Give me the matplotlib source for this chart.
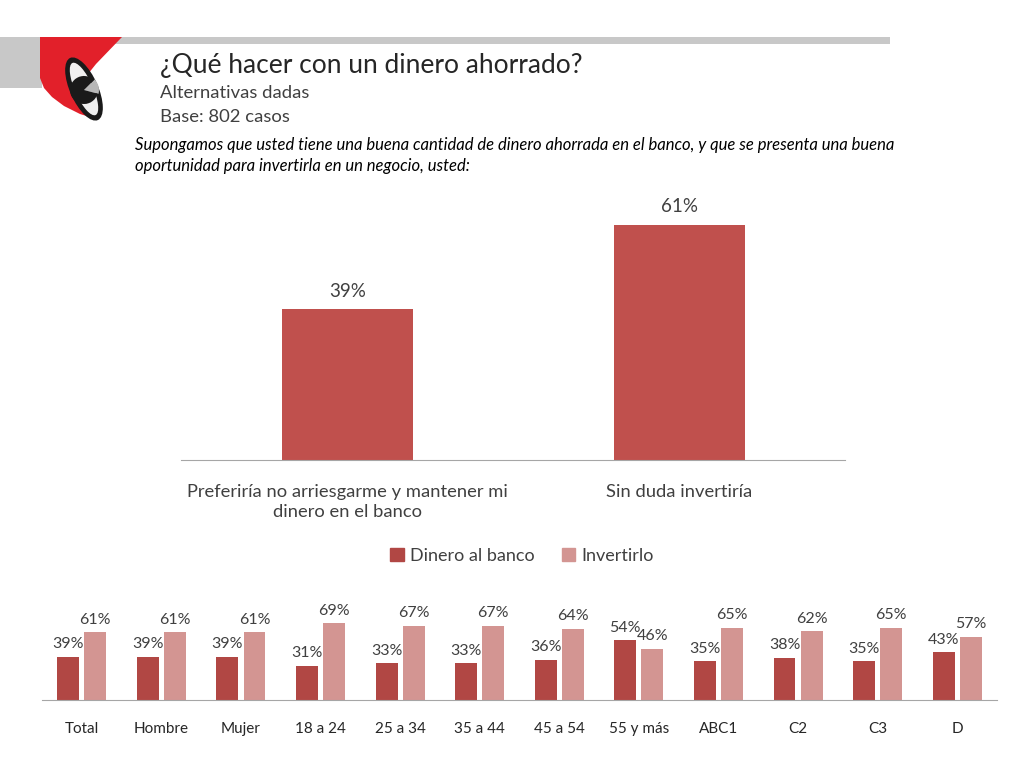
import matplotlib
matplotlib.use("Agg")
import matplotlib.pyplot as plt
from matplotlib.patches import Polygon, Rectangle, Ellipse, Wedge

plt.rcParams['font.family'] = ['Lato', 'DejaVu Sans']

# data
top_cats = ["Preferiría no arriesgarme y mantener mi\ndinero en el banco", "Sin duda invertiría"]
top_vals = [39, 61]

groups = ["Total", "Hombre", "Mujer", "18 a 24", "25 a 34", "35 a 44", "45 a 54",
          "55 y más", "ABC1", "C2", "C3", "D"]
banco = [39, 39, 39, 31, 33, 33, 36, 54, 35, 38, 35, 43]
invertir = [61, 61, 61, 69, 67, 67, 64, 46, 65, 62, 65, 57]

W, H = 1024, 768
red_top = '#C0504D'
dark = '#B14744'
light = '#D39592'
text_c = '#404040'


def box(x0, y0, x1, y1):
    # pixel box (top-left origin) -> figure fraction
    return [x0 / W, 1 - y1 / H, (x1 - x0) / W, (y1 - y0) / H]


fig = plt.figure(figsize=(W / 100, H / 100), dpi=100)

# header / logo drawn in pixel coords
bg = fig.add_axes([0, 0, 1, 1])
bg.set_xlim(0, W)
bg.set_ylim(H, 0)
bg.axis('off')
bg.add_patch(Rectangle((0, 37), 890, 7, color='#C8C8C8', lw=0))
bg.add_patch(Rectangle((0, 37), 42, 51, color='#C8C8C8', lw=0))
bg.add_patch(Polygon([(40, 37), (122, 37), (96, 64), (80, 84), (86, 104), (96, 119), (80, 114),
                      (64, 106), (52, 97), (44, 88), (40, 78)],
                     closed=True, color='#E2202A', lw=0))
bg.add_patch(Ellipse((84, 89), 28, 68, angle=-24, color='#1A1A1A', lw=0))
bg.add_patch(Ellipse((84, 89), 18, 57, angle=-24, color='#F0F0F0', lw=0))
bg.add_patch(Wedge((84, 90), 15, -45, 15, color='#B8B8B8', lw=0))
bg.add_patch(Wedge((84, 90), 14, 15, 315, color='#1A1A1A', lw=0))

fig.text(160 / W, 1 - 65 / H, "¿Qué hacer con un dinero ahorrado?", fontsize=19, color='#262626', va='center')
fig.text(160 / W, 1 - 93 / H, "Alternativas dadas", fontsize=13.3, color=text_c, va='center')
fig.text(160 / W, 1 - 117 / H, "Base: 802 casos", fontsize=13.3, color=text_c, va='center')
fig.text(135 / W, 1 - 145 / H,
         "Supongamos que usted tiene una buena cantidad de dinero ahorrada en el banco, y que se presenta una buena",
         fontsize=12, style='italic', color='black', va='center')
fig.text(135 / W, 1 - 166 / H, "oportunidad para invertirla en un negocio, usted:",
         fontsize=12, style='italic', color='black', va='center')

# top chart
ax1 = fig.add_axes(box(181, 200, 845, 460))
xs = range(len(top_vals))
bars = ax1.bar(xs, top_vals, width=0.395, color=red_top)
for b, v in zip(bars, top_vals):
    ax1.annotate(f"{v}%", (b.get_x() + b.get_width() / 2, v), xytext=(0, 7), textcoords='offset points',
                 ha='center', va='bottom', fontsize=13.5, color=text_c)
ax1.set_xlim(-0.502, 1.5)
ax1.set_ylim(0, 260 / 3.86)
ax1.set_yticks([])
ax1.set_xticks(list(xs))
ax1.set_xticklabels(top_cats, fontsize=13.2, color=text_c, linespacing=1.35)
ax1.tick_params(axis='x', length=0, pad=17)
for s in ['top', 'right', 'left']:
    ax1.spines[s].set_visible(False)
ax1.spines['bottom'].set_color('#A6A6A6')

# legend
handles = [Rectangle((0, 0), 1, 1, color=dark), Rectangle((0, 0), 1, 1, color=light)]
fig.legend(handles, ["Dinero al banco", "Invertirlo"], loc='center', bbox_to_anchor=(522 / W, 1 - 556 / H),
           ncol=2, frameon=False, fontsize=13, handlelength=0.75, handleheight=0.75, handletextpad=0.35,
           columnspacing=1.5, labelcolor=text_c)

# bottom chart
ax2 = fig.add_axes(box(42, 590, 997, 700))
gx = list(range(len(groups)))
bw = 0.276
off = 0.17
b1 = ax2.bar([x - off for x in gx], banco, width=bw, color=dark)
b2 = ax2.bar([x + off for x in gx], invertir, width=bw, color=light)
for bs, vals in [(b1, banco), (b2, invertir)]:
    for b, v in zip(bs, vals):
        ax2.annotate(f"{v}%", (b.get_x() + b.get_width() / 2, v), xytext=(0, 4), textcoords='offset points',
                     ha='center', va='bottom', fontsize=11.5, color=text_c)
ax2.set_xlim(-0.5, 11.5)
ax2.set_ylim(0, 110 / 1.11)
ax2.set_yticks([])
ax2.set_xticks(gx)
ax2.set_xticklabels(groups, fontsize=11, color='#262626')
ax2.tick_params(axis='x', length=0, pad=16)
for s in ['top', 'right', 'left']:
    ax2.spines[s].set_visible(False)
ax2.spines['bottom'].set_color('#A6A6A6')

fig.savefig("out.png", dpi=100)
